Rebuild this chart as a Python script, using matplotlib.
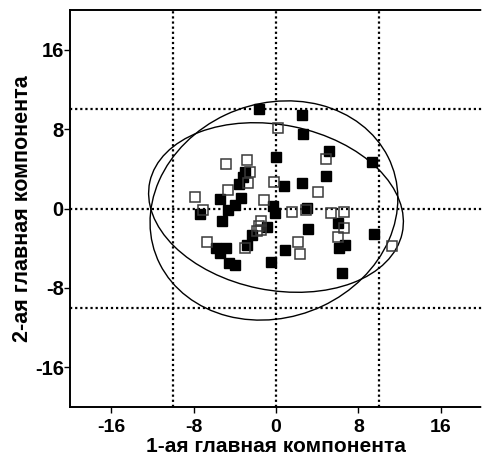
import numpy as np
import matplotlib
matplotlib.use("Agg")
import matplotlib.pyplot as plt
from matplotlib.patches import Ellipse

# group 1 (filled squares)
filled_x = [-1.61, 2.52, 2.65, 0.0, 5.16, 9.29, 4.84, 2.52, 0.81, -2.97,
            -3.23, -3.61, -3.39, -5.42, -3.94, -4.65, -7.35, -5.23, -0.32, -0.13,
            3.0, -0.9, -2.32, 3.13, 6.03, 9.52, 6.68, 6.13, -2.81, -5.81,
            -4.84, -5.42, -4.61, -3.94, 0.9, -0.45, 6.39]
filled_y = [10.02, 9.45, 7.54, 5.19, 5.83, 4.72, 3.28, 2.58, 2.28, 3.65,
            3.18, 2.51, 1.07, 0.97, 0.37, -0.2, -0.6, -1.21, 0.30, -0.44,
            0.07, -1.84, -2.71, -2.04, -1.51, -2.61, -3.65, -4.02, -3.72, -3.95,
            -4.02, -4.52, -5.53, -5.73, -4.15, -5.36, -6.47]

# group 2 (open squares)
open_x = [0.23, -4.9, -2.77, -2.52, -2.74, -4.68, -0.19, 4.84, 4.10, -7.87,
          -7.1, -1.19, 1.55, 2.9, 5.32, 6.65, -1.48, -1.61, -1.87, -1.42,
          6.58, 6.06, -6.68, -3.0, 2.13, 2.32, 11.23]
open_y = [8.11, 4.52, 4.92, 3.65, 2.58, 1.84, 2.68, 4.99, 1.68, 1.11,
          -0.17, 0.84, -0.34, -0.2, -0.5, -0.4, -1.27, -1.78, -2.28, -2.21,
          -1.98, -2.91, -3.38, -3.99, -3.38, -4.62, -3.79]

# confidence ellipses: center, width, height, angle (deg)
ell_centers = [(-0.2, -0.2), (0.0, 0.1)]
ell_widths = [24.64, 25.04]
ell_heights = [21.44, 16.64]
ell_angles = [26, -12]

ticks = [-16, -8, 0, 8, 16]
grid_pos = [-10, 0, 10]

plt.rcParams['font.family'] = ['Liberation Sans', 'DejaVu Sans']
plt.rcParams['font.weight'] = 'bold'
plt.rcParams['axes.unicode_minus'] = False

fig = plt.figure(figsize=(4.82, 4.55), dpi=100)
ax = fig.add_axes([70 / 482, 48 / 455, 412 / 482, 397 / 455])

for g in grid_pos:
    ax.axvline(g, color="black", linestyle=(0, (1, 1.3)), linewidth=1.6, zorder=1)
    ax.axhline(g, color="black", linestyle=(0, (1, 1.3)), linewidth=1.6, zorder=1)

for c, w, h, a in zip(ell_centers, ell_widths, ell_heights, ell_angles):
    ax.add_patch(Ellipse(c, w, h, angle=a, fill=False, edgecolor="black",
                         linewidth=1.0, zorder=2))

ax.plot(filled_x, filled_y, "s", color="black", markersize=7.0, zorder=3)
ax.plot(open_x, open_y, "s", markerfacecolor="none", markeredgecolor="#3a3a3a",
        markeredgewidth=1.1, markersize=7.0, zorder=4)

ax.set_xlim(-20, 20)
ax.set_ylim(-20, 20)
ax.set_xticks(ticks)
ax.set_yticks(ticks)
ax.tick_params(direction="out", length=4, width=1)
ax.tick_params(axis="x", pad=5, labelsize=14)
ax.tick_params(axis="y", pad=0.5, labelsize=14.5)
for lab in ax.get_xticklabels() + ax.get_yticklabels():
    lab.set_fontweight("bold")

for s in ["left", "bottom", "top"]:
    ax.spines[s].set_linestyle((0, (1, 1)))
    ax.spines[s].set_linewidth(1.4)
ax.spines["right"].set_visible(False)

ax.set_xlabel("1-ая главная компонента", fontsize=15, fontweight="bold", labelpad=0.5)
ax.set_ylabel("2-ая главная компонента", fontsize=15.5, fontweight="bold", labelpad=1)

fig.savefig("out.png", dpi=100)
